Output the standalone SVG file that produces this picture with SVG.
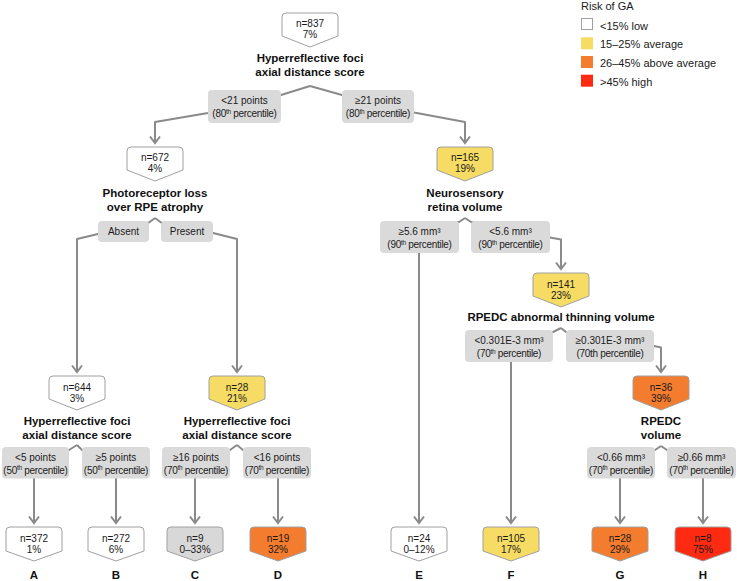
<svg xmlns="http://www.w3.org/2000/svg" width="737" height="581" viewBox="0 0 737 581">
<defs>
<style>
.t{font-family:"Liberation Sans",Arial,sans-serif;font-size:10px;fill:#1a1a1a;text-anchor:middle}
.l2{letter-spacing:-0.3px}
.h{font-family:"Liberation Sans",Arial,sans-serif;font-size:11.5px;font-weight:bold;fill:#111;text-anchor:middle}
.lg{font-family:"Liberation Sans",Arial,sans-serif;font-size:11px;fill:#1a1a1a}
.c{fill:none;stroke:#8a8a8a;stroke-width:2;stroke-linejoin:round}
.b{fill:#dadada}
.n{stroke:#a0a0a0;stroke-width:1;stroke-linejoin:round}
.w{fill:#ffffff}.y{fill:#f6dc64}.o{fill:#f47c2e}.r{fill:#fe2a12}.g{fill:#d8d8d8}
</style>
<marker id="ah" markerUnits="userSpaceOnUse" markerWidth="16" markerHeight="16" refX="8" refY="8" orient="auto">
<path d="M1.5,3 L8,8 L1.5,13" fill="none" stroke="#8a8a8a" stroke-width="2" stroke-linejoin="miter"/>
</marker>
</defs>

<g id="legend">
<text class="lg" x="581" y="10">Risk of GA</text>
<rect x="581.5" y="18.5" width="11" height="11" fill="#fff" stroke="#a0a0a0"/>
<text class="lg" x="600" y="29.5">&lt;15% low</text>
<rect x="581" y="37.3" width="12" height="12" fill="#f6dc64"/>
<text class="lg" x="600" y="48.3">15–25% average</text>
<rect x="581" y="56" width="12" height="12" fill="#f47c2e"/>
<text class="lg" x="600" y="67">26–45% above average</text>
<rect x="581" y="74.7" width="12" height="12" fill="#fe2a12"/>
<text class="lg" x="600" y="85.7">&gt;45% high</text>
</g>

<g id="connectors">
<path class="c" d="M310,86 L281,95 L208,113 L155,122 L155,143" marker-end="url(#ah)"/>
<path class="c" d="M310,86 L342,95 L414,112.5 L465,122 L465,143" marker-end="url(#ah)"/>
<path class="c" d="M155,218 L149,222.5 L98,234 L77,239 L77,372" marker-end="url(#ah)"/>
<path class="c" d="M155,218 L161,222.5 L213,233 L237,239 L237,372" marker-end="url(#ah)"/>
<path class="c" d="M465,218 L459,222 L419,232 L419,523" marker-end="url(#ah)"/>
<path class="c" d="M465,218 L471,222 L550,237.5 L561,239.5 L561,269" marker-end="url(#ah)"/>
<path class="c" d="M561,328 L553,332 L511,342 L511,523" marker-end="url(#ah)"/>
<path class="c" d="M561,328 L566,332 L654,346 L661,347.5 L661,372" marker-end="url(#ah)"/>
<path class="c" d="M77,445 L69,450 L34,460 L34,523" marker-end="url(#ah)"/>
<path class="c" d="M77,445 L82,450 L116,460 L116,523" marker-end="url(#ah)"/>
<path class="c" d="M237,445 L230,450 L195,460 L195,523" marker-end="url(#ah)"/>
<path class="c" d="M237,445 L243,450 L278,460 L278,523" marker-end="url(#ah)"/>
<path class="c" d="M661,446 L655,450 L620,460 L620,523" marker-end="url(#ah)"/>
<path class="c" d="M661,446 L667,450 L703,460 L703,523" marker-end="url(#ah)"/>
</g>

<g id="edge-labels">
<g id="e-root-l"><rect class="b" x="208" y="90" width="73" height="33" rx="4"/>
<text class="t" x="244.5" y="104.3">&lt;21 points</text>
<text class="t l2" x="244.5" y="117">(80<tspan font-size="6.5" dy="-3.5">th</tspan><tspan dy="3.5"> percentile)</tspan></text></g>
<g id="e-root-r"><rect class="b" x="342" y="90" width="72" height="33" rx="4"/>
<text class="t" x="378" y="104.3">≥21 points</text>
<text class="t l2" x="378" y="117">(80<tspan font-size="6.5" dy="-3.5">th</tspan><tspan dy="3.5"> percentile)</tspan></text></g>

<g id="e-672-l"><rect class="b" x="98" y="221" width="51" height="21" rx="4"/>
<text class="t" x="123.5" y="235">Absent</text></g>
<g id="e-672-r"><rect class="b" x="161" y="221" width="52" height="21" rx="4"/>
<text class="t" x="187" y="235">Present</text></g>

<g id="e-165-l"><rect class="b" x="380" y="221" width="79" height="32" rx="4"/>
<text class="t" x="419.5" y="235.3">≥5.6 mm³</text>
<text class="t l2" x="419.5" y="248">(90<tspan font-size="6.5" dy="-3.5">th</tspan><tspan dy="3.5"> percentile)</tspan></text></g>
<g id="e-165-r"><rect class="b" x="471" y="221" width="79" height="32" rx="4"/>
<text class="t" x="510.5" y="235.3">&lt;5.6 mm³</text>
<text class="t l2" x="510.5" y="248">(90<tspan font-size="6.5" dy="-3.5">th</tspan><tspan dy="3.5"> percentile)</tspan></text></g>

<g id="e-141-l"><rect class="b" x="465" y="330" width="88" height="32" rx="4"/>
<text class="t" x="509" y="344.3">&lt;0.301E-3 mm³</text>
<text class="t l2" x="509" y="357">(70<tspan font-size="6.5" dy="-3.5">th</tspan><tspan dy="3.5"> percentile)</tspan></text></g>
<g id="e-141-r"><rect class="b" x="566" y="330" width="88" height="32" rx="4"/>
<text class="t" x="610" y="344.3">≥0.301E-3 mm³</text>
<text class="t l2" x="610" y="357">(70th percentile)</text></g>

<g id="e-644-l"><rect class="b" x="2" y="447" width="67" height="31.5" rx="4"/>
<text class="t" x="35.5" y="461">&lt;5 points</text>
<text class="t l2" x="35.5" y="473.5">(50<tspan font-size="6.5" dy="-3.5">th</tspan><tspan dy="3.5"> percentile)</tspan></text></g>
<g id="e-644-r"><rect class="b" x="82" y="447" width="68" height="31.5" rx="4"/>
<text class="t" x="116" y="461">≥5 points</text>
<text class="t l2" x="116" y="473.5">(50<tspan font-size="6.5" dy="-3.5">th</tspan><tspan dy="3.5"> percentile)</tspan></text></g>

<g id="e-28-l"><rect class="b" x="162" y="447" width="68" height="31.5" rx="4"/>
<text class="t" x="196" y="461">≥16 points</text>
<text class="t l2" x="196" y="473.5">(70<tspan font-size="6.5" dy="-3.5">th</tspan><tspan dy="3.5"> percentile)</tspan></text></g>
<g id="e-28-r"><rect class="b" x="243" y="447" width="68" height="31.5" rx="4"/>
<text class="t" x="277" y="461">&lt;16 points</text>
<text class="t l2" x="277" y="473.5">(70<tspan font-size="6.5" dy="-3.5">th</tspan><tspan dy="3.5"> percentile)</tspan></text></g>

<g id="e-36-l"><rect class="b" x="587" y="447" width="68" height="31.5" rx="4"/>
<text class="t" x="621" y="461">&lt;0.66 mm³</text>
<text class="t l2" x="621" y="473.5">(70<tspan font-size="6.5" dy="-3.5">th</tspan><tspan dy="3.5"> percentile)</tspan></text></g>
<g id="e-36-r"><rect class="b" x="667" y="447" width="69" height="31.5" rx="4"/>
<text class="t" x="701.5" y="461">≥0.66 mm³</text>
<text class="t l2" x="701.5" y="473.5">(70<tspan font-size="6.5" dy="-3.5">th</tspan><tspan dy="3.5"> percentile)</tspan></text></g>
</g>

<g id="node-root">
<path class="n w" d="M282,17 Q282,13 286,13 L334,13 Q338,13 338,17 L338,36 L310,47 L282,36 Z"/>
<text class="t" x="310" y="27">n=837</text><text class="t" x="310" y="38">7%</text>
<text class="h" x="310" y="62">Hyperreflective foci</text>
<text class="h" x="310" y="76">axial distance score</text>
</g>

<g id="node-672">
<path class="n w" d="M127,151 Q127,147 131,147 L179,147 Q183,147 183,151 L183,170 L155,181 L127,170 Z"/>
<text class="t" x="155" y="161">n=672</text><text class="t" x="155" y="172">4%</text>
<text class="h" x="155" y="197">Photoreceptor loss</text>
<text class="h" x="155" y="211">over RPE atrophy</text>
</g>

<g id="node-165">
<path class="n y" d="M437,151 Q437,147 441,147 L489,147 Q493,147 493,151 L493,170 L465,181 L437,170 Z"/>
<text class="t" x="465" y="161">n=165</text><text class="t" x="465" y="172">19%</text>
<text class="h" x="465" y="197">Neurosensory</text>
<text class="h" x="465" y="211">retina volume</text>
</g>

<g id="node-141">
<path class="n y" d="M533,277 Q533,273 537,273 L585,273 Q589,273 589,277 L589,296 L561,307 L533,296 Z"/>
<text class="t" x="561" y="287.5">n=141</text><text class="t" x="561" y="298.5">23%</text>
<text class="h" x="561" y="321">RPEDC abnormal thinning volume</text>
</g>

<g id="node-644">
<path class="n w" d="M49,380 Q49,376 53,376 L101,376 Q105,376 105,380 L105,399 L77,410 L49,399 Z"/>
<text class="t" x="77" y="390.5">n=644</text><text class="t" x="77" y="401.5">3%</text>
<text class="h" x="77" y="425">Hyperreflective foci</text>
<text class="h" x="77" y="439">axial distance score</text>
</g>

<g id="node-28">
<path class="n y" d="M209,380 Q209,376 213,376 L261,376 Q265,376 265,380 L265,399 L237,410 L209,399 Z"/>
<text class="t" x="237" y="390.5">n=28</text><text class="t" x="237" y="401.5">21%</text>
<text class="h" x="237" y="425">Hyperreflective foci</text>
<text class="h" x="237" y="439">axial distance score</text>
</g>

<g id="node-36">
<path class="n o" d="M633,380 Q633,376 637,376 L685,376 Q689,376 689,380 L689,399 L661,410 L633,399 Z"/>
<text class="t" x="661" y="390.5">n=36</text><text class="t" x="661" y="401.5">39%</text>
<text class="h" x="661" y="425">RPEDC</text>
<text class="h" x="661" y="439">volume</text>
</g>

<g id="leaf-A">
<path class="n w" d="M6,531 Q6,527 10,527 L58,527 Q62,527 62,531 L62,551 L34,561 L6,551 Z"/>
<text class="t" x="34" y="542">n=372</text><text class="t" x="34" y="553">1%</text>
<text class="h" x="34" y="579">A</text>
</g>
<g id="leaf-B">
<path class="n w" d="M88,531 Q88,527 92,527 L140,527 Q144,527 144,531 L144,551 L116,561 L88,551 Z"/>
<text class="t" x="116" y="542">n=272</text><text class="t" x="116" y="553">6%</text>
<text class="h" x="116" y="579">B</text>
</g>
<g id="leaf-C">
<path class="n g" d="M167,531 Q167,527 171,527 L219,527 Q223,527 223,531 L223,551 L195,561 L167,551 Z"/>
<text class="t" x="195" y="542">n=9</text><text class="t" x="195" y="553">0–33%</text>
<text class="h" x="195" y="579">C</text>
</g>
<g id="leaf-D">
<path class="n o" d="M250,531 Q250,527 254,527 L302,527 Q306,527 306,531 L306,551 L278,561 L250,551 Z"/>
<text class="t" x="278" y="542">n=19</text><text class="t" x="278" y="553">32%</text>
<text class="h" x="278" y="579">D</text>
</g>
<g id="leaf-E">
<path class="n w" d="M391,531 Q391,527 395,527 L443,527 Q447,527 447,531 L447,551 L419,561 L391,551 Z"/>
<text class="t" x="419" y="542">n=24</text><text class="t" x="419" y="553">0–12%</text>
<text class="h" x="419" y="579">E</text>
</g>
<g id="leaf-F">
<path class="n y" d="M483,531 Q483,527 487,527 L535,527 Q539,527 539,531 L539,551 L511,561 L483,551 Z"/>
<text class="t" x="511" y="542">n=105</text><text class="t" x="511" y="553">17%</text>
<text class="h" x="511" y="579">F</text>
</g>
<g id="leaf-G">
<path class="n o" d="M592,531 Q592,527 596,527 L644,527 Q648,527 648,531 L648,551 L620,561 L592,551 Z"/>
<text class="t" x="620" y="542">n=28</text><text class="t" x="620" y="553">29%</text>
<text class="h" x="620" y="579">G</text>
</g>
<g id="leaf-H">
<path class="n r" d="M675,531 Q675,527 679,527 L727,527 Q731,527 731,531 L731,551 L703,561 L675,551 Z"/>
<text class="t" x="703" y="542">n=8</text><text class="t" x="703" y="553">75%</text>
<text class="h" x="703" y="579">H</text>
</g>
</svg>
